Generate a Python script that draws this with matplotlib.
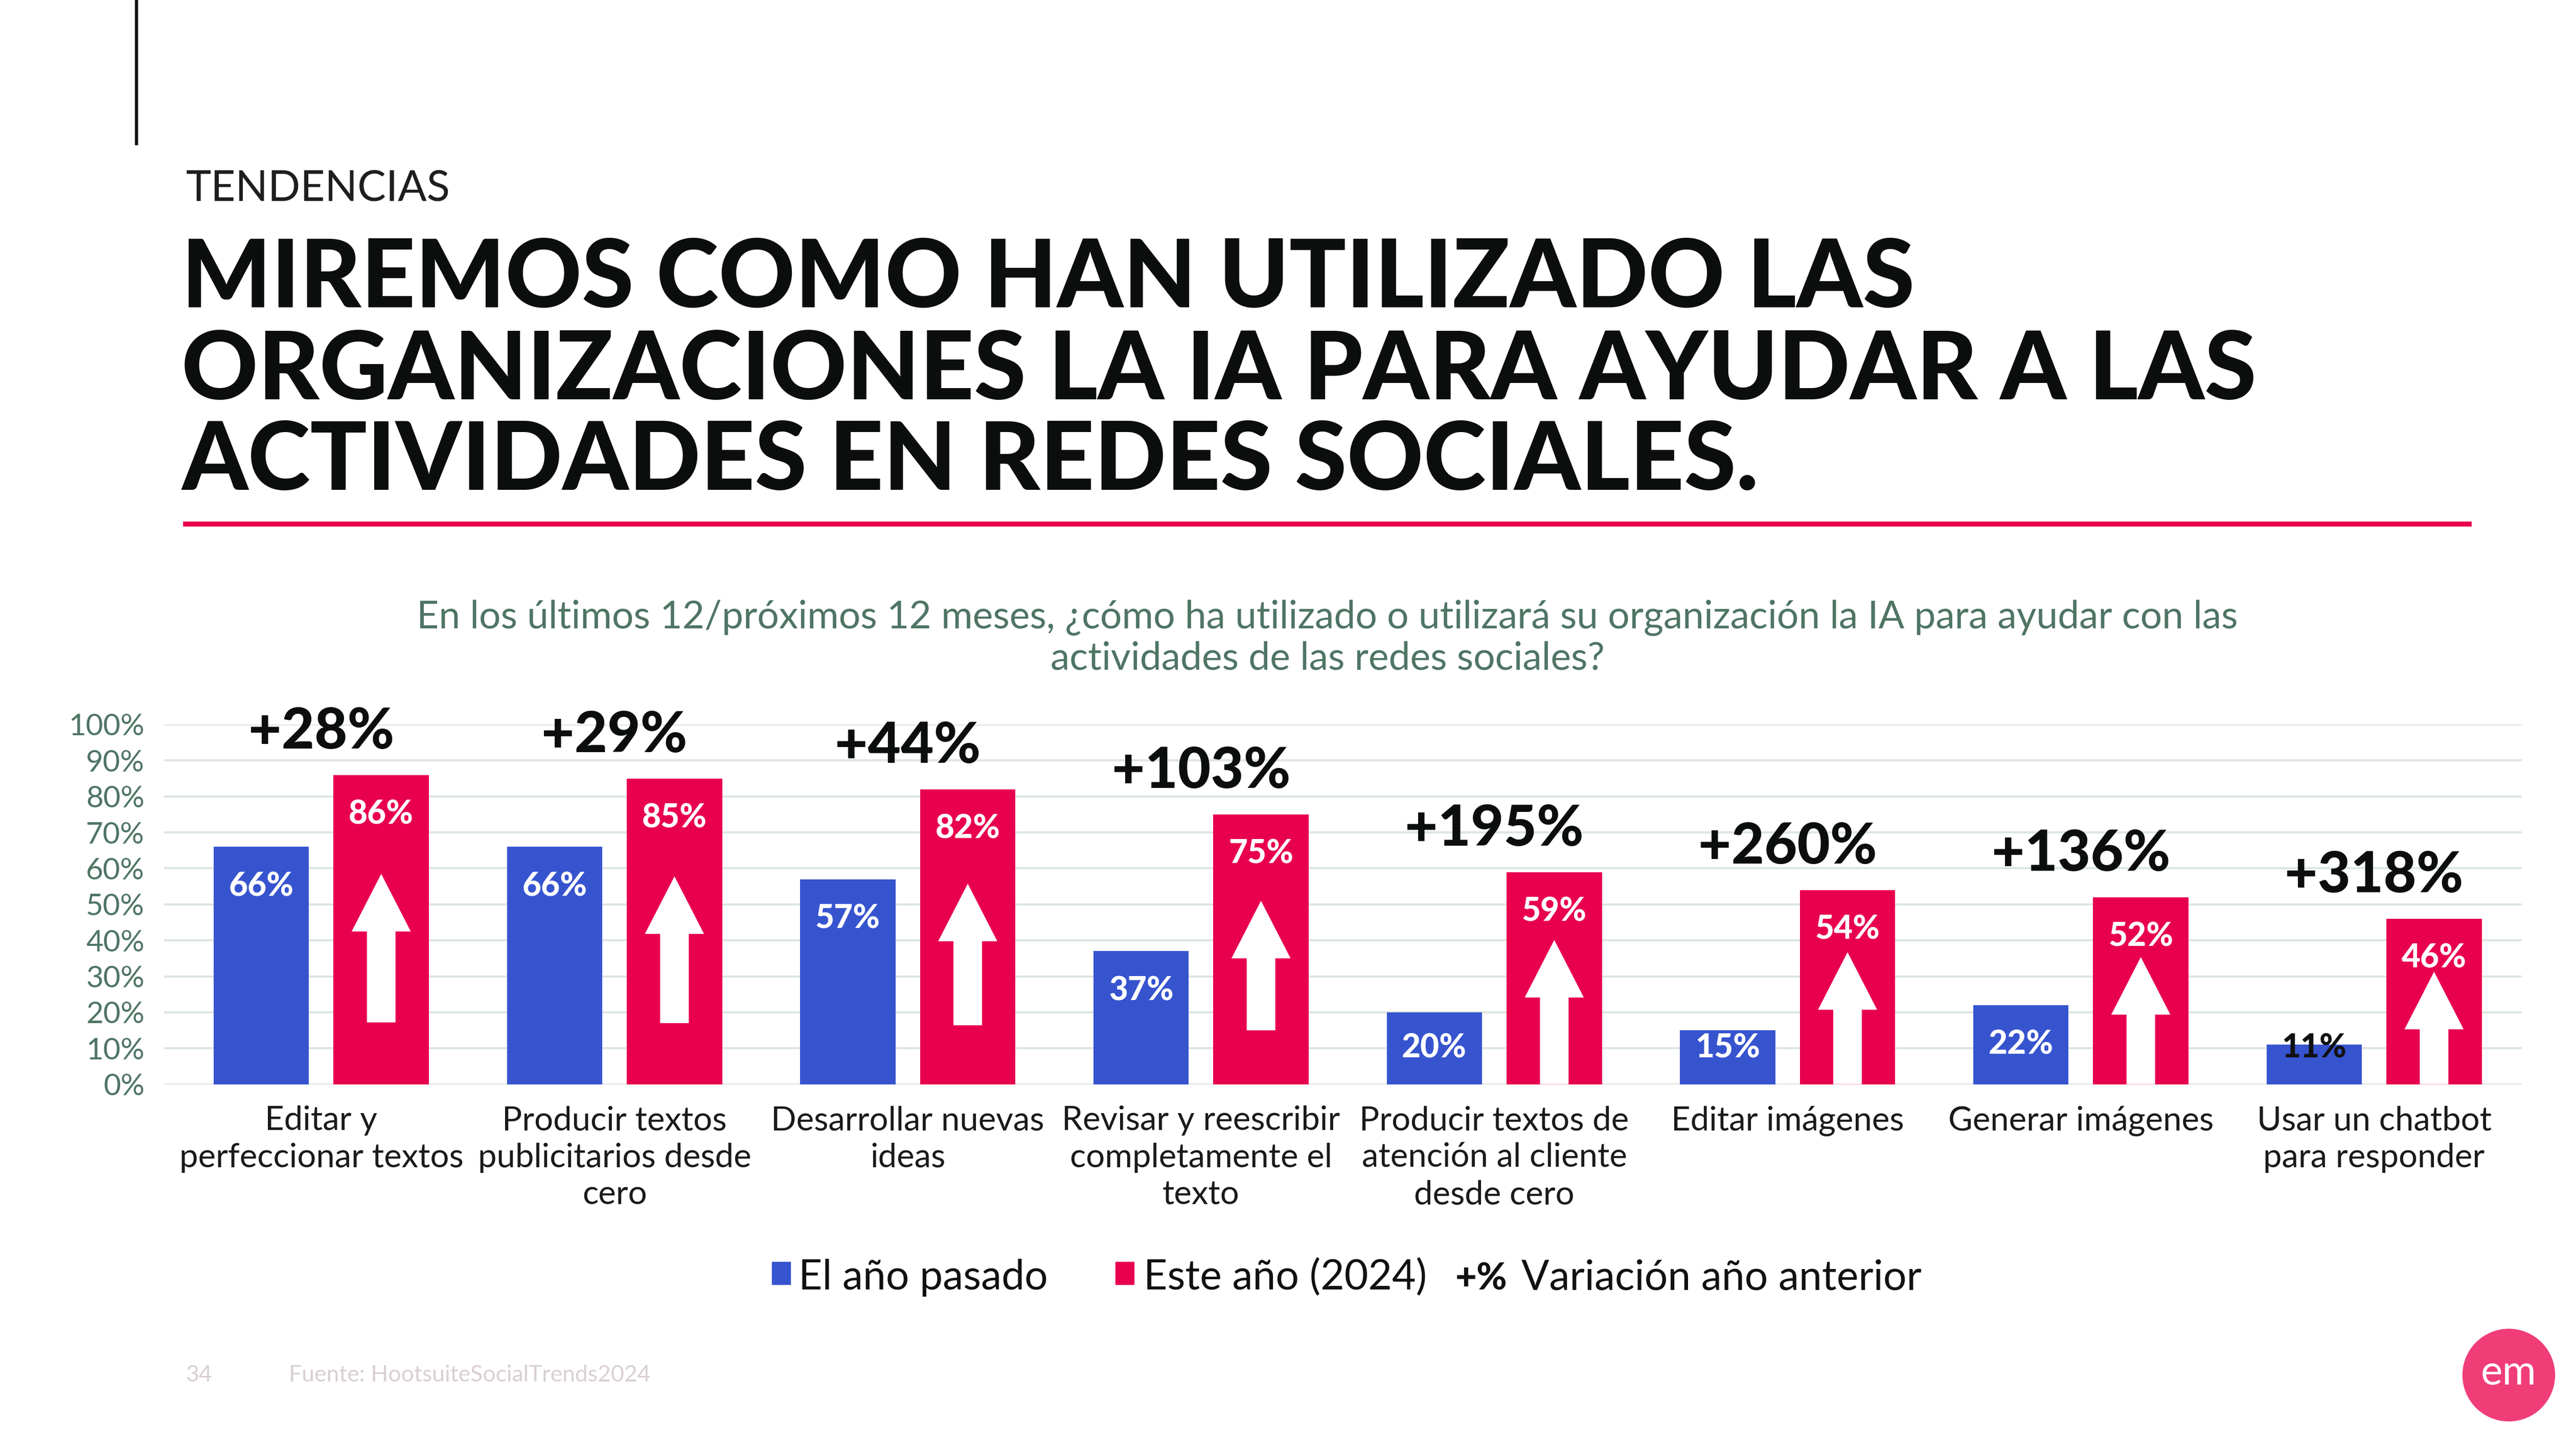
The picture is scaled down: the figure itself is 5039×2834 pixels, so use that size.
import matplotlib.pyplot as plt
from matplotlib.patches import FancyArrow, Rectangle, Ellipse
from matplotlib.lines import Line2D
import numpy as np

# datos
categorias = ["Editar y\nperfeccionar textos", "Producir textos\npublicitarios desde\ncero",
              "Desarrollar nuevas\nideas", "Revisar y reescribir\ncompletamente el\ntexto",
              "Producir textos de\natención al cliente\ndesde cero", "Editar imágenes",
              "Generar imágenes", "Usar un chatbot\npara responder"]
anio_pasado = [66, 66, 57, 37, 20, 15, 22, 11]
este_anio = [86, 85, 82, 75, 59, 54, 52, 46]
variacion = ["+28%", "+29%", "+44%", "+103%", "+195%", "+260%", "+136%", "+318%"]
yticks = [0, 10, 20, 30, 40, 50, 60, 70, 80, 90, 100]

AZUL = "#3754CF"
ROJO = "#E8004E"
VERDE = "#4F7564"
HEAVY = ["Lato", "DejaVu Sans"]
LIGHT = ["Lato", "DejaVu Sans"]

fig = plt.figure(figsize=(50.39, 28.34), dpi=100)

# cabecera
fig.add_artist(Line2D([0.0529, 0.0529], [0.901, 1.0], color="#111111", lw=4.5))
fig.text(0.0721, 0.861, "TENDENCIAS", fontsize=60, family=LIGHT, weight="normal",
         color="#1E1E1E", va="baseline")
titulo = ["MIREMOS COMO HAN UTILIZADO LAS",
          "ORGANIZACIONES LA IA PARA AYUDAR A LAS",
          "ACTIVIDADES EN REDES SOCIALES."]
for linea, yb in zip(titulo, [0.788, 0.7245, 0.662]):
    fig.text(0.0705, yb, linea, fontsize=133, family=HEAVY, weight="black",
             color="#0B0E0C", va="baseline")
fig.add_artist(Line2D([0.0721, 0.9585], [0.6383, 0.6383], color=ROJO, lw=7))

fig.text(0.5153, 0.5737, "En los últimos 12/próximos 12 meses, ¿cómo ha utilizado o utilizará su "
         "organización la IA para ayudar con las", fontsize=54, family=LIGHT, weight="normal",
         color=VERDE, ha="center", va="center")
fig.text(0.5153, 0.5454, "actividades de las redes sociales?", fontsize=54, family=LIGHT,
         weight="normal", color=VERDE, ha="center", va="center")

# grafico
ax = fig.add_axes([0.0638, 0.2517, 0.9152, 0.2483])
x = np.arange(len(categorias))
bw = 0.325
off = 0.2045
ax.bar(x - off, anio_pasado, bw, color=AZUL, zorder=2)
ax.bar(x + off, este_anio, bw, color=ROJO, zorder=2)

for i in range(len(x)):
    v = anio_pasado[i]
    ax.text(x[i] - off, max(v - 11, 10), f"{v}%", ha="center", va="center",
            fontsize=46, family=HEAVY, weight="black",
            color="white" if v >= 12 else "#111111", zorder=4)
    r = este_anio[i]
    ax.text(x[i] + off, r - 11, f"{r}%", ha="center", va="center",
            fontsize=46, family=HEAVY, weight="black", color="white", zorder=4)
    tip = 0.68 * r
    tail = 0.2 * r if r >= 70 else 0
    ax.add_patch(FancyArrow(x[i] + off, tail, 0, tip - tail, width=0.3 * bw,
                            head_width=0.62 * bw, head_length=16,
                            length_includes_head=True, color="white", lw=0, zorder=3))
    ax.text(x[i] + 0.0, r + 12, variacion[i], ha="center", va="center",
            fontsize=80, family=HEAVY, weight="black", color="#0B0E0C", clip_on=False)

ax.set_xlim(-0.535, len(x) - 1 + 0.504)
ax.set_ylim(0, 100)
ax.set_yticks(yticks)
ax.set_yticklabels([f"{t}%" for t in yticks], fontsize=42, family=LIGHT, weight="normal",
                   color=VERDE)
ax.set_xticks(x)
ax.set_xticklabels(categorias, fontsize=47, family=LIGHT, weight="normal",
                   color="#1A1A1A", linespacing=1.28, va="top")
ax.tick_params(axis="both", length=0)
ax.tick_params(axis="y", pad=28)
ax.tick_params(axis="x", pad=30)
ax.grid(axis="y", color="#DDE6E1", lw=3, zorder=0)
for s in ax.spines.values():
    s.set_visible(False)

# leyenda
ly = 0.110
fig.add_artist(Rectangle((0.2997, 0.1135), 0.0072, 0.0158, color=AZUL, transform=fig.transFigure))
fig.text(0.3100, ly, "El año pasado", fontsize=58, family=LIGHT, weight="normal",
         color="#111111", va="baseline")
fig.add_artist(Rectangle((0.4330, 0.1135), 0.0072, 0.0158, color=ROJO, transform=fig.transFigure))
fig.text(0.4439, ly, "Este año (2024)", fontsize=58, family=LIGHT, weight="normal",
         color="#111111", va="baseline")
fig.text(0.5650, ly, "+%", fontsize=52, family=HEAVY, weight="black",
         color="#111111", va="baseline")
fig.text(0.5906, ly, "Variación año anterior", fontsize=58, family=LIGHT, weight="normal",
         color="#111111", va="baseline")

# pie de pagina
fig.text(0.0721, 0.051, "34", fontsize=32, family=LIGHT, color="#D9CFD2", va="center")
fig.text(0.1122, 0.051, "Fuente: HootsuiteSocialTrends2024", fontsize=32, family=LIGHT,
         color="#D9CFD2", va="center")
fig.add_artist(Ellipse((0.9739, 0.0510), 0.0357, 0.0635, color="#F03D78",
                       transform=fig.transFigure))
fig.text(0.9739, 0.0525, "em", fontsize=58, family=LIGHT, weight="normal", color="white",
         ha="center", va="center")

fig.savefig("out.png", dpi=100, facecolor="white")
